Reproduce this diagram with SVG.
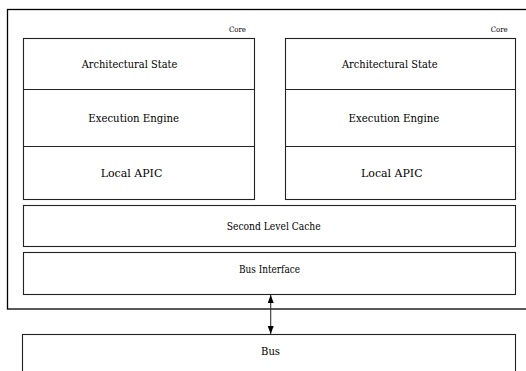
<svg xmlns="http://www.w3.org/2000/svg" width="526" height="371" viewBox="0 0 526 371">
<defs>
<style>
.box{fill:#fff;stroke:#222;stroke-width:1.1}
.frame{fill:none;stroke:#000;stroke-width:1.3}
.lbl{font-family:"DejaVu Serif Condensed","DejaVu Serif",serif;font-size:11px;fill:#000}
.small{font-family:"DejaVu Serif Condensed","DejaVu Serif",serif;font-size:7.5px;fill:#000}
.conn{stroke:#333;stroke-width:1.1;fill:none}
</style>
<marker id="ah" viewBox="0 0 8 6" refX="8" refY="3" markerWidth="8" markerHeight="6" markerUnits="userSpaceOnUse" orient="auto-start-reverse">
<path d="M0,0 L8,3 L0,6 Z" fill="#000"/>
</marker>
</defs>
<rect width="526" height="371" fill="#fff"/>
<g id="system">
<rect class="frame" x="7.5" y="9.5" width="530" height="299.5"/>
</g>
<g id="core1">
<text class="small" x="229" y="32" textLength="17" lengthAdjust="spacingAndGlyphs">Core</text>
<rect class="box" x="23.5" y="38.5" width="231" height="161"/>
<line class="box" x1="23.5" y1="89.5" x2="254.5" y2="89.5"/>
<line class="box" x1="23.5" y1="146.5" x2="254.5" y2="146.5"/>
<text class="lbl" x="81.7" y="68" textLength="95.6" lengthAdjust="spacingAndGlyphs">Architectural State</text>
<text class="lbl" x="88.3" y="122" textLength="90.7" lengthAdjust="spacingAndGlyphs">Execution Engine</text>
<text class="lbl" x="100.7" y="176.5" textLength="61.6" lengthAdjust="spacingAndGlyphs">Local APIC</text>
</g>
<g id="core2">
<text class="small" x="490.7" y="32" textLength="17" lengthAdjust="spacingAndGlyphs">Core</text>
<rect class="box" x="285.5" y="38.5" width="230" height="161"/>
<line class="box" x1="285.5" y1="89.5" x2="515.5" y2="89.5"/>
<line class="box" x1="285.5" y1="146.5" x2="515.5" y2="146.5"/>
<text class="lbl" x="342" y="68" textLength="95.6" lengthAdjust="spacingAndGlyphs">Architectural State</text>
<text class="lbl" x="348.6" y="122" textLength="90.7" lengthAdjust="spacingAndGlyphs">Execution Engine</text>
<text class="lbl" x="361" y="176.5" textLength="61.6" lengthAdjust="spacingAndGlyphs">Local APIC</text>
</g>
<g id="cache">
<rect class="box" x="23.5" y="205.5" width="492" height="41"/>
<text class="lbl" x="226.7" y="230" textLength="94" lengthAdjust="spacingAndGlyphs">Second Level Cache</text>
</g>
<g id="businterface">
<rect class="box" x="23.5" y="252.5" width="492" height="42"/>
<text class="lbl" x="239" y="273" textLength="61" lengthAdjust="spacingAndGlyphs">Bus Interface</text>
</g>
<g id="bus">
<rect class="box" x="22.5" y="334.5" width="493" height="45"/>
<text class="lbl" x="261" y="355" textLength="19" lengthAdjust="spacingAndGlyphs">Bus</text>
</g>
<g id="connectors">
<line class="conn" x1="270.7" y1="295" x2="270.7" y2="334" marker-start="url(#ah)" marker-end="url(#ah)"/>
</g>
</svg>
